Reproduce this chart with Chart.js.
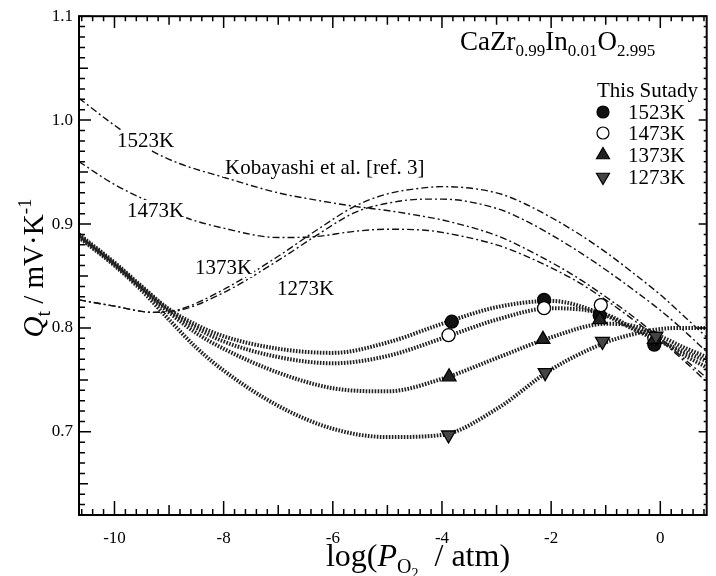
<!DOCTYPE html>
<html>
<head>
<meta charset="utf-8">
<script src="https://cdn.jsdelivr.net/npm/chart.js@4/dist/chart.umd.min.js"></script>
<style>
  html, body { margin: 0; padding: 0; background: #fff; }
  #wrap { width: 716px; height: 576px; position: relative; }
</style>
</head>
<body>
<div id="wrap"><canvas id="chart"></canvas></div>
<script>
// fitted curves of this study
const xFit = [-10.65, -10, -9.5, -9, -8.5, -8, -7, -6, -5, -4, -3, -2, -1, -0.5, 0, 0.4, 0.85];
const fit1523 = [0.890, 0.863, 0.840, 0.818, 0.803, 0.792, 0.780, 0.776, 0.786, 0.804, 0.820, 0.826, 0.812, 0.799, 0.787, 0.778, 0.768];
const fit1473 = [0.889, 0.862, 0.839, 0.817, 0.800, 0.787, 0.772, 0.766, 0.773, 0.790, 0.808, 0.819, 0.813, 0.800, 0.788, 0.775, 0.762];
const fit1373 = [0.888, 0.861, 0.838, 0.815, 0.795, 0.780, 0.757, 0.742, 0.739, 0.751, 0.771, 0.791, 0.804, 0.802, 0.792, 0.782, 0.772];
const fit1273 = [0.887, 0.860, 0.836, 0.808, 0.781, 0.759, 0.725, 0.703, 0.695, 0.697, 0.722, 0.760, 0.786, 0.794, 0.799, 0.800, 0.800];

// Kobayashi et al. [ref. 3]
const xKob = [-10.65, -10, -9.3, -8.8, -8, -7, -6.3, -5.6, -5, -4.3, -4, -3, -2.5, -1.6, -1, -0.5, 0, 0.4, 0.85];
const kob1523 = [1.021, 0.995, 0.970, 0.958, 0.945, 0.930, 0.923, 0.917, 0.913, 0.907, 0.904, 0.889, 0.877, 0.851, 0.830, 0.811, 0.790, 0.772, 0.752];
const kob1473 = [0.960, 0.938, 0.920, 0.908, 0.896, 0.887, 0.888, 0.893, 0.895, 0.894, 0.892, 0.880, 0.870, 0.847, 0.827, 0.808, 0.788, 0.770, 0.748];
const kob1373 = [0.827, 0.821, 0.815, 0.817, 0.834, 0.865, 0.889, 0.911, 0.920, 0.924, 0.924, 0.915, 0.904, 0.877, 0.856, 0.837, 0.817, 0.799, 0.777];
const kob1273 = [0.827, 0.821, 0.815, 0.818, 0.837, 0.869, 0.894, 0.917, 0.929, 0.935, 0.936, 0.930, 0.920, 0.894, 0.873, 0.853, 0.832, 0.813, 0.791];

// measured points
const xMeas1523 = [-3.82, -2.13, -1.11, -0.11];
const qMeas1523 = [0.806, 0.827, 0.812, 0.784];
const xMeas1473 = [-3.88, -2.13, -1.09, -0.11];
const qMeas1473 = [0.793, 0.819, 0.822, 0.790];
const xMeas1373 = [-3.87, -2.15, -1.11, -0.11];
const qMeas1373 = [0.753, 0.789, 0.808, 0.789];
const xMeas1273 = [-3.88, -2.11, -1.06, -0.08];
const qMeas1273 = [0.697, 0.757, 0.787, 0.792];

const xTicks = [-10, -8, -6, -4, -2, 0];
const yTicks = [0.7, 0.8, 0.9, 1.0, 1.1];

const SERIF = '"Liberation Serif", "DejaVu Serif", serif';

function pts(xs, ys) {
  return xs.map((x, i) => ({ x: x, y: ys[i] }));
}

function fitSet(ys) {
  return {
    data: pts(xFit, ys), showLine: true, pointRadius: 0,
    borderColor: '#222', borderWidth: 4, borderDash: [1.6, 1.4],
    cubicInterpolationMode: 'monotone'
  };
}

function kobSet(ys) {
  return {
    data: pts(xKob, ys), showLine: true, pointRadius: 0,
    borderColor: '#111', borderWidth: 1.4, borderDash: [7, 3, 2, 3],
    cubicInterpolationMode: 'monotone'
  };
}

function measSet(xs, ys, style, rot, fill, r) {
  return {
    data: pts(xs, ys), showLine: false,
    pointStyle: style, pointRotation: rot, pointRadius: r,
    pointBackgroundColor: fill, pointBorderColor: '#000', pointBorderWidth: 1.3
  };
}

// draw text pieces (with sub/superscripts) one after the other
function drawRuns(ctx, runs, x, y, align) {
  let total = 0;
  runs.forEach(r => { ctx.font = r.f; total += ctx.measureText(r.t).width; });
  let cx = align === 'center' ? x - total / 2 : x;
  ctx.textAlign = 'left';
  ctx.textBaseline = 'alphabetic';
  runs.forEach(r => {
    ctx.font = r.f;
    ctx.fillText(r.t, cx, y + (r.dy || 0));
    cx += ctx.measureText(r.t).width;
  });
}

function marker(ctx, style, x, y, r, fill) {
  ctx.save();
  ctx.fillStyle = fill;
  ctx.strokeStyle = '#000';
  ctx.lineWidth = 1.2;
  ctx.beginPath();
  if (style === 'circle') {
    ctx.arc(x, y, r, 0, Math.PI * 2);
  } else {
    const s = style === 'up' ? 1 : -1;
    ctx.moveTo(x, y - s * r);
    ctx.lineTo(x + r * 0.87, y + s * r * 0.5);
    ctx.lineTo(x - r * 0.87, y + s * r * 0.5);
    ctx.closePath();
  }
  ctx.fill();
  ctx.stroke();
  ctx.restore();
}

const decor = {
  id: 'decor',
  afterDatasetsDraw(chart) {
    const ctx = chart.ctx;
    const a = chart.chartArea;
    const xs = chart.scales.x, ys = chart.scales.y;
    ctx.save();

    // frame
    ctx.strokeStyle = '#000';
    ctx.lineWidth = 2;
    ctx.strokeRect(a.left, a.top, a.right - a.left, a.bottom - a.top);

    // x ticks (every 0.2, inward)
    ctx.lineWidth = 1.5;
    ctx.beginPath();
    for (let k = -53; k <= 4; k++) {
      const p = xs.getPixelForValue(k * 0.2);
      const len = k % 10 === 0 ? 14 : (k % 5 === 0 ? 10 : 6);
      ctx.moveTo(p, a.bottom); ctx.lineTo(p, a.bottom - len);
      ctx.moveTo(p, a.top); ctx.lineTo(p, a.top + len * 0.85);
    }
    // y ticks (every 0.01, inward)
    for (let k = 62; k <= 110; k++) {
      const p = ys.getPixelForValue(k / 100);
      const len = k % 10 === 0 ? 12 : (k % 5 === 0 ? 9 : 6);
      ctx.moveTo(a.left, p); ctx.lineTo(a.left + len, p);
      ctx.moveTo(a.right, p); ctx.lineTo(a.right - (k % 10 === 0 ? 8 : 3), p);
    }
    ctx.stroke();

    // annotations with white backing
    ctx.fillStyle = '#000';
    const notes = [
      ['1523K', 117, 140], ['1473K', 127, 210],
      ['Kobayashi et al. [ref. 3]', 225, 167],
      ['1373K', 195, 267], ['1273K', 277, 288]
    ];
    ctx.font = '21px ' + SERIF;
    ctx.textBaseline = 'middle';
    ctx.textAlign = 'left';
    notes.forEach(n => {
      const w = ctx.measureText(n[0]).width;
      ctx.fillStyle = '#fff';
      ctx.fillRect(n[1] - 2, n[2] - 10, w + 4, 20);
      ctx.fillStyle = '#000';
      ctx.fillText(n[0], n[1], n[2] + 1);
    });

    // compound title
    const big = '27px ' + SERIF, sub = '17px ' + SERIF;
    drawRuns(ctx, [
      { t: 'CaZr', f: big }, { t: '0.99', f: sub, dy: 6 },
      { t: 'In', f: big }, { t: '0.01', f: sub, dy: 6 },
      { t: 'O', f: big }, { t: '2.995', f: sub, dy: 6 }
    ], 460, 50, 'left');

    // legend
    ctx.font = '21px ' + SERIF;
    ctx.textAlign = 'left';
    ctx.textBaseline = 'alphabetic';
    ctx.fillText('This Sutady', 597, 97);
    const leg = [
      ['1523K', 'circle', '#111', 112],
      ['1473K', 'circle', '#fff', 133],
      ['1373K', 'up', '#222', 155],
      ['1273K', 'down', '#444', 177]
    ];
    leg.forEach(l => {
      marker(ctx, l[1], 603, l[3], l[1] === 'circle' ? 6 : 7.5, l[2]);
      ctx.fillStyle = '#000';
      ctx.font = '21px ' + SERIF;
      ctx.fillText(l[0], 628, l[3] + 7);
    });

    // x axis title
    const tf = '32px ' + SERIF;
    drawRuns(ctx, [
      { t: 'log(', f: tf }, { t: 'P', f: 'italic ' + tf },
      { t: 'O', f: '20px ' + SERIF, dy: 7 }, { t: '2', f: '14px ' + SERIF, dy: 12 },
      { t: '  / atm)', f: tf }
    ], 418, 566, 'center');

    // y axis title (rotated)
    ctx.save();
    ctx.translate(43, 268);
    ctx.rotate(-Math.PI / 2);
    const yf = '29px ' + SERIF;
    drawRuns(ctx, [
      { t: 'Q', f: 'italic ' + yf }, { t: 't', f: '20px ' + SERIF, dy: 7 },
      { t: ' / mV\u00b7K', f: yf }, { t: '-1', f: '19px ' + SERIF, dy: -12 }
    ], 0, 0, 'center');
    ctx.restore();

    ctx.restore();
  }
};

new Chart(document.getElementById('chart'), {
  type: 'scatter',
  data: {
    datasets: [
      measSet(xMeas1273, qMeas1273, 'triangle', 180, '#444', 8),
      measSet(xMeas1373, qMeas1373, 'triangle', 0, '#222', 8),
      measSet(xMeas1473, qMeas1473, 'circle', 0, '#fff', 6.5),
      measSet(xMeas1523, qMeas1523, 'circle', 0, '#111', 6.5),
      fitSet(fit1523), fitSet(fit1473), fitSet(fit1373), fitSet(fit1273),
      kobSet(kob1523), kobSet(kob1473), kobSet(kob1373), kobSet(kob1273)
    ]
  },
  options: {
    responsive: true,
    maintainAspectRatio: false,
    animation: false,
    devicePixelRatio: 1,
    events: [],
    layout: { padding: { top: 15, right: 3, left: 0, bottom: 0 } },
    plugins: { legend: { display: false }, tooltip: { enabled: false } },
    scales: {
      x: {
        type: 'linear', min: -10.65, max: 0.85,
        grid: { display: false, drawTicks: false }, border: { display: false },
        afterBuildTicks: s => { s.ticks = xTicks.map(v => ({ value: v })); },
        afterFit: s => { s.height = 61; },
        ticks: { color: '#000', font: { family: SERIF, size: 17 }, padding: 13, maxRotation: 0 }
      },
      y: {
        type: 'linear', min: 0.62, max: 1.1,
        grid: { display: false, drawTicks: false }, border: { display: false },
        afterBuildTicks: s => { s.ticks = yTicks.map(v => ({ value: v })); },
        afterFit: s => { s.width = 79; },
        ticks: { color: '#000', font: { family: SERIF, size: 17 }, padding: 6,
                 callback: v => v.toFixed(1) }
      }
    }
  },
  plugins: [decor]
});
</script>
</body>
</html>
